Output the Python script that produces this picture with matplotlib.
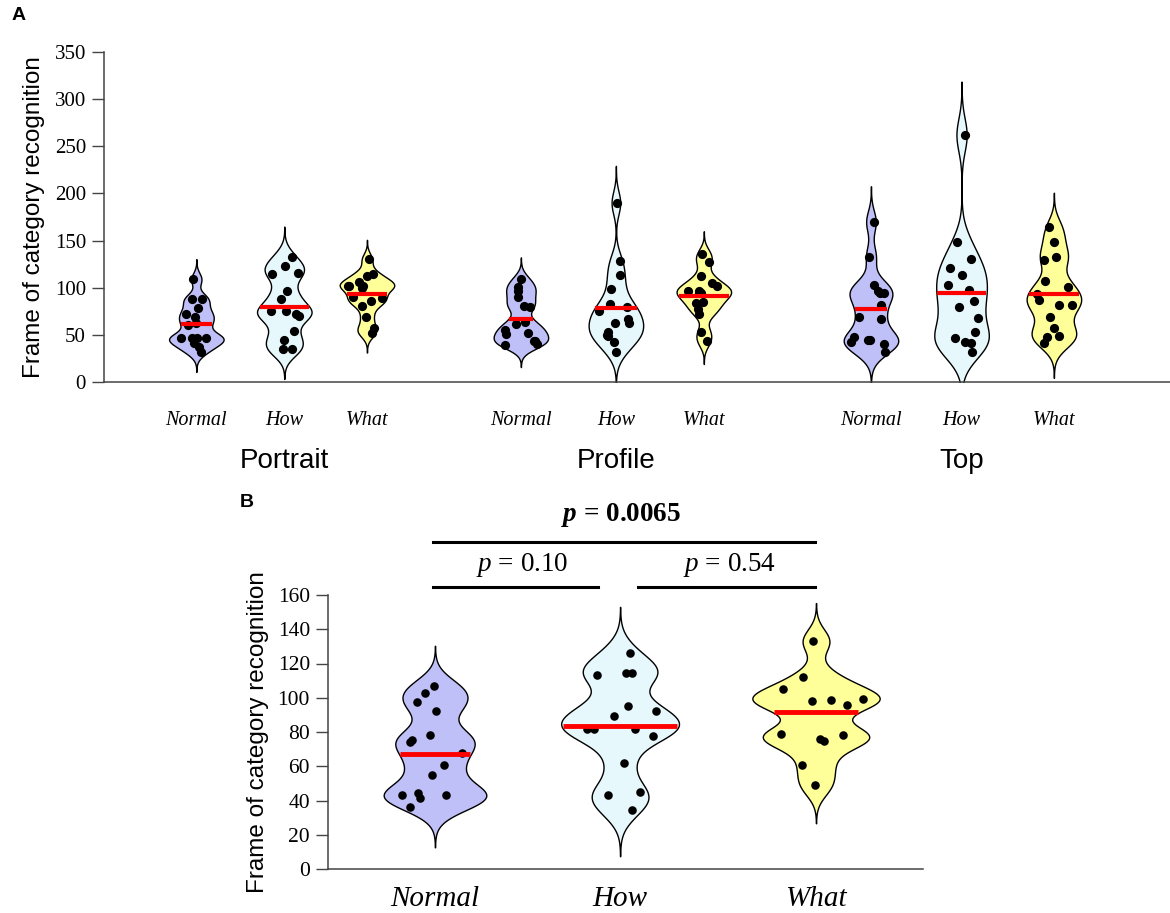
import numpy as np
import matplotlib
matplotlib.use("Agg")
import matplotlib.pyplot as plt

plt.rcParams["mathtext.fontset"] = "custom"
plt.rcParams["mathtext.it"] = "Liberation Serif:italic"
plt.rcParams["mathtext.bf"] = "Liberation Serif:bold:italic"
plt.rcParams["mathtext.rm"] = "Liberation Serif"

# ---------------- data ----------------
conditions = ["Normal", "How", "What"]
views = ["Portrait", "Profile", "Top"]

portrait_normal = [109, 88, 88, 78, 72, 69, 63, 60, 47, 47, 47, 47, 41, 37, 32]
portrait_how = [133, 123, 116, 115, 96, 88, 72, 75, 70, 75, 54, 45, 35, 35]
portrait_what = [130, 115, 112, 106, 102, 100, 102, 102, 90, 89, 86, 81, 69, 57, 52]
profile_normal = [109, 101, 97, 90, 80, 81, 64, 61, 52, 51, 55, 44, 39, 40, 43]
profile_how = [190, 128, 113, 99, 83, 80, 75, 63, 67, 63, 53, 49, 50, 42, 32]
profile_what = [136, 127, 112, 105, 102, 94, 94, 96, 96, 85, 84, 77, 72, 53, 43]
top_normal = [170, 133, 103, 94, 97, 94, 82, 67, 69, 45, 45, 48, 42, 40, 32]
top_how = [262, 148, 130, 121, 114, 103, 98, 86, 80, 68, 53, 47, 42, 41, 32]
top_what = [164, 149, 133, 129, 107, 101, 93, 87, 82, 82, 69, 57, 49, 48, 41]

medians_a = [61.5, 80, 93, 67, 78, 91.5, 77, 94, 93]

pooled_normal = [103, 107, 97.5, 92.5, 78.4, 74, 75.5, 67.5, 61, 55, 43, 44.6, 41.5, 43.4, 36]
pooled_how = [126, 114.6, 114.6, 113.5, 95.4, 92, 89.3, 82, 77.5, 81.6, 81.6, 61.7, 45, 43, 34.5]
pooled_what = [133, 112, 105, 98.7, 98, 99.3, 95.8, 78.4, 79, 76, 75, 61, 49]
medians_b = [67, 83.5, 91.5]

p_labels = ["0.10", "0.54", "0.0065"]

# ---------------- style ----------------
fills = {"Normal": "#c0c0f8", "How": "#e6f8fc", "What": "#ffff99"}
serif = "Liberation Serif"
sans = "Liberation Sans"


def kde(vals, adjust=0.52, cut=3.2, n=400):
    v = np.asarray(vals, float)
    bw = adjust * len(v) ** (-0.2) * v.std(ddof=1)
    grid = np.linspace(v.min() - cut * bw, v.max() + cut * bw, n)
    d = np.exp(-0.5 * ((grid[:, None] - v[None, :]) / bw) ** 2).sum(axis=1)
    return grid, d / d.max()


def violin(ax, x, vals, med, color, half_w, dot_size, med_lw, seed):
    grid, d = kde(vals)
    ax.fill_betweenx(grid, x - d * half_w, x + d * half_w, facecolor=color,
                     edgecolor="black", linewidth=1.0, zorder=2)
    rng = np.random.default_rng(seed)
    v = np.asarray(vals, float)
    dens = np.interp(v, grid, d)
    offs = rng.uniform(-0.75, 0.75, len(v)) * dens * half_w
    ax.scatter(x + offs, v, s=dot_size, color="black", zorder=3, linewidths=0)
    mw = np.interp(med, grid, d) * half_w * 0.97
    ax.plot([x - mw, x + mw], [med, med], color="#ff0000", lw=med_lw,
            solid_capstyle="butt", zorder=4)


fig = plt.figure(figsize=(11.7, 9.13), dpi=100)

# ---------------- panel A ----------------
axA = fig.add_axes([104 / 1170, 1 - 382 / 913, 1 - 104 / 1170, (382 - 52) / 913])
pos_a = [0, 1, 1.94, 3.69, 4.77, 5.77, 7.67, 8.7, 9.75]
data_a = [portrait_normal, portrait_how, portrait_what,
          profile_normal, profile_how, profile_what,
          top_normal, top_how, top_what]
for i, (x, vals, med) in enumerate(zip(pos_a, data_a, medians_a)):
    cond = conditions[i % 3]
    violin(axA, x, vals, med, fills[cond], 0.31, 44, 3.0, seed=i + 3)

axA.set_ylim(0, 350)
axA.set_xlim(-1.05, 11.07)
axA.set_yticks(range(0, 351, 50))
axA.set_xticks(pos_a)
axA.set_xticklabels(conditions * 3, fontfamily=serif, fontstyle="italic", fontsize=14.5)
for lab in axA.get_xticklabels():
    lab.set_fontstretch("expanded")
axA.tick_params(axis="x", length=0, pad=21)
axA.tick_params(axis="y", length=9, width=1, color="#444444", labelsize=15, pad=4)
for lab in axA.get_yticklabels():
    lab.set_fontfamily(serif)
for s in ["top", "right"]:
    axA.spines[s].set_visible(False)
for s in ["left", "bottom"]:
    axA.spines[s].set_color("#444444")
    axA.spines[s].set_linewidth(1.1)
axA.set_ylabel("Frame of category recognition", fontfamily=sans, fontsize=17.5, labelpad=7)
for g, view in enumerate(views):
    xc = pos_a[g * 3 + 1]
    axA.text(xc, -0.24, view, transform=axA.get_xaxis_transform(), ha="center",
             va="center", fontfamily=sans, fontsize=20)
fig.text(12 / 1170, 1 - 16 / 913, "A", fontfamily=sans, fontweight="bold", fontsize=14,
         ha="left", va="center")

# ---------------- panel B ----------------
axB = fig.add_axes([328 / 1170, 1 - 869 / 913, (923 - 328) / 1170, (869 - 595) / 913])
pos_b = [0, 0.974, 2.005]
data_b = [pooled_normal, pooled_how, pooled_what]
widths_b = [0.27, 0.31, 0.335]
for i, (x, vals, med, w) in enumerate(zip(pos_b, data_b, medians_b, widths_b)):
    violin(axB, x, vals, med, fills[conditions[i]], w, 38, 3.5, seed=i + 20)

axB.set_ylim(0, 160)
axB.set_xlim(-0.563, 2.568)
axB.set_yticks(range(0, 161, 20))
axB.set_xticks(pos_b)
axB.set_xticklabels(conditions, fontfamily=serif, fontstyle="italic", fontsize=21)
axB.tick_params(axis="x", length=0, pad=12)
axB.tick_params(axis="y", length=9, width=1, color="#444444", labelsize=15.5, pad=4)
for lab in axB.get_yticklabels():
    lab.set_fontfamily(serif)
for s in ["top", "right"]:
    axB.spines[s].set_visible(False)
for s in ["left", "bottom"]:
    axB.spines[s].set_color("#444444")
    axB.spines[s].set_linewidth(1.1)
axB.set_ylabel("Frame of category recognition", fontfamily=sans, fontsize=17.5, labelpad=6)

# significance brackets
axB.plot([-0.01, 0.86], [164.7, 164.7], color="black", lw=2.2, clip_on=False)
axB.plot([1.07, 2.0], [164.7, 164.7], color="black", lw=2.2, clip_on=False)
axB.plot([-0.01, 2.0], [191, 191], color="black", lw=2.2, clip_on=False)
axB.text(0.46, 177.5, "$\\mathit{p}$ = " + p_labels[0], ha="center", va="center",
         fontfamily=serif, fontsize=19.5)
axB.text(1.55, 177.5, "$\\mathit{p}$ = " + p_labels[1], ha="center", va="center",
         fontfamily=serif, fontsize=19.5)
axB.text(0.98, 206.5, "$\\mathbf{p}$ = " + p_labels[2], ha="center", va="center",
         fontfamily=serif, fontweight="bold", fontsize=19.5)
fig.text(240 / 1170, 1 - 502 / 913, "B", fontfamily=sans, fontweight="bold", fontsize=14,
         ha="left", va="center")

fig.savefig("out.png", dpi=100)
